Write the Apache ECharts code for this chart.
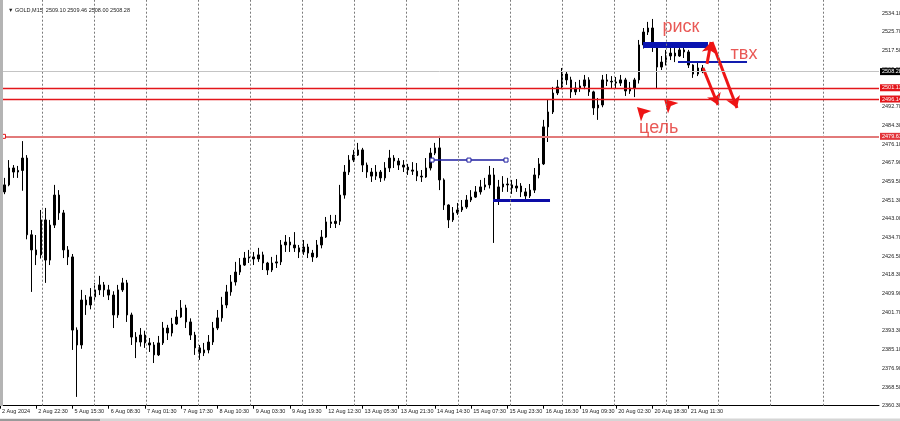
<!DOCTYPE html>
<html><head><meta charset="utf-8">
<script src="https://cdn.jsdelivr.net/npm/echarts/dist/echarts.min.js"></script>
<style>html,body{margin:0;padding:0;background:#fff}#c{width:900px;height:421px}</style>
</head><body><div id="c"></div>
<script>
// ---- data (2-hour candles, GOLD M15 chart) ----
const chartTitle = '\u25BC GOLD,M15  2509.10 2509.46 2508.00 2508.28';
const timeLabels = ['2 Aug 2024','2 Aug 22:30','5 Aug 15:30','6 Aug 08:30','7 Aug 01:30','7 Aug 17:30','8 Aug 10:30','9 Aug 03:30','9 Aug 19:30','12 Aug 12:30','13 Aug 05:30','13 Aug 21:30','14 Aug 14:30','15 Aug 07:30','15 Aug 23:30','16 Aug 16:30','19 Aug 09:30','20 Aug 02:30','20 Aug 18:30','21 Aug 11:30'];
const labelStep = 8;
const slotCount = 195;
const priceTickLabels = ['2360.30','2368.50','2376.90','2385.10','2393.30','2401.70','2409.90','2418.30','2426.50','2434.70','2443.00','2451.30','2459.50','2467.90','2476.10','2484.30','2492.70','2501.00','2509.20','2517.50','2525.70','2534.10'];
const priceMin = 2360.3, priceMax = 2540.0, priceStep = 8.28;

const opens = [
2452.0,2455.0,2458.1,2465.6,2463.8,2464.5,2470.0,2436.0,2429.3,2427.1,
2442.6,2424.8,2440.3,2453.6,2445.7,2429.3,2426.2,2393.8,2387.2,2407.1,
2404.9,2408.5,2411.6,2413.8,2411.6,2409.3,2400.5,2411.6,2414.7,2400.5,
2390.7,2388.5,2391.6,2388.1,2387.2,2382.8,2388.1,2394.7,2392.5,2396.5,
2399.6,2403.6,2397.4,2391.6,2385.9,2383.7,2385.0,2388.5,2394.7,2399.2,
2404.9,2410.7,2415.1,2419.5,2422.6,2425.7,2426.2,2425.3,2427.1,2423.5,
2420.4,2423.5,2424.0,2431.5,2432.8,2431.5,2430.2,2428.4,2430.6,2427.9,
2426.2,2431.5,2435.0,2441.7,2441.0,2442.0,2453.6,2463.8,2469.1,2471.3,
2473.6,2466.9,2463.8,2462.0,2463.8,2461.2,2465.6,2470.0,2468.7,2466.9,
2466.0,2464.7,2464.2,2462.0,2461.6,2465.6,2472.2,2474.5,2460.3,2449.2,
2442.6,2445.7,2447.0,2448.3,2451.4,2452.7,2455.0,2457.2,2458.1,2462.5,
2451.4,2457.2,2458.5,2458.1,2456.7,2457.6,2455.0,2453.2,2455.8,2462.5,
2467.4,2483.8,2490.4,2498.8,2501.5,2507.2,2504.6,2499.3,2501.0,2501.9,
2504.6,2499.3,2492.2,2493.5,2504.6,2504.0,2503.7,2503.2,2504.6,2499.7,
2501.0,2504.6,2520.1,2525.8,2527.6,2520.1,2510.3,2512.5,2515.2,2516.5,
2515.2,2517.9,2517.0,2511.2,2507.2,2509.9];
const closes = [
2455.0,2458.1,2465.6,2463.8,2464.5,2470.0,2436.0,2429.3,2427.1,2442.6,
2424.8,2440.3,2453.6,2445.7,2429.3,2426.2,2393.8,2387.2,2407.1,2404.9,
2408.5,2411.6,2413.8,2411.6,2409.3,2400.5,2411.6,2414.7,2400.5,2390.7,
2388.5,2391.6,2388.1,2387.2,2382.8,2388.1,2394.7,2392.5,2396.5,2399.6,
2403.6,2397.4,2391.6,2385.9,2383.7,2385.0,2388.5,2394.7,2399.2,2404.9,
2410.7,2415.1,2419.5,2422.6,2425.7,2426.2,2425.3,2427.1,2423.5,2420.4,
2423.5,2424.0,2431.5,2432.8,2431.5,2430.2,2428.4,2430.6,2427.9,2426.2,
2431.5,2435.0,2441.7,2441.0,2442.0,2453.6,2463.8,2469.1,2471.3,2473.6,
2466.9,2463.8,2462.0,2463.8,2461.2,2465.6,2470.0,2468.7,2466.9,2466.0,
2464.7,2464.2,2462.0,2461.6,2465.6,2472.2,2474.5,2460.3,2449.2,2442.6,
2445.7,2447.0,2448.3,2451.4,2452.7,2455.0,2457.2,2458.1,2462.5,2451.4,
2457.2,2458.5,2458.1,2456.7,2457.6,2455.0,2453.2,2455.8,2462.5,2467.4,
2483.8,2490.4,2498.8,2501.5,2507.2,2504.6,2499.3,2501.0,2501.9,2504.6,
2499.3,2492.2,2493.5,2504.6,2504.0,2503.7,2503.2,2504.6,2499.7,2501.0,
2504.6,2520.1,2525.8,2527.6,2520.1,2510.3,2512.5,2515.2,2516.5,2515.2,
2517.9,2517.0,2511.2,2507.2,2509.9,2508.28];
const lows = [
2451.0,2454.0,2457.5,2461.2,2461.2,2455.5,2434.0,2410.7,2422.6,2425.5,
2414.7,2422.6,2439.0,2442.6,2425.7,2422.6,2385.0,2364.2,2385.5,2400.5,
2403.0,2407.1,2409.3,2408.5,2407.1,2394.7,2399.2,2410.7,2397.4,2387.2,
2381.4,2386.5,2385.9,2384.1,2379.2,2382.3,2387.2,2389.4,2391.0,2396.1,
2399.2,2394.7,2389.4,2382.8,2380.6,2382.3,2383.5,2387.2,2393.8,2397.5,
2403.5,2409.0,2413.5,2418.2,2422.2,2423.5,2422.6,2424.0,2420.4,2418.2,
2419.5,2421.3,2422.6,2428.4,2428.4,2428.4,2425.7,2427.1,2425.7,2424.0,
2425.7,2430.0,2434.6,2439.0,2439.0,2440.3,2452.0,2462.5,2468.2,2470.9,
2463.8,2461.2,2459.4,2460.3,2459.4,2460.0,2463.8,2465.6,2464.7,2463.8,
2462.5,2462.5,2459.8,2459.4,2461.2,2464.5,2471.3,2455.8,2447.0,2439.0,
2441.7,2444.8,2446.1,2447.5,2450.5,2452.3,2453.8,2455.8,2456.5,2432.4,
2449.2,2455.0,2455.0,2454.1,2455.0,2452.7,2451.4,2452.3,2454.5,2461.0,
2466.9,2477.1,2489.5,2497.9,2500.5,2502.4,2496.6,2497.9,2499.3,2500.5,
2497.5,2489.1,2486.9,2492.5,2501.9,2501.0,2501.0,2501.9,2497.5,2498.4,
2497.0,2503.0,2518.5,2524.5,2517.0,2501.0,2509.0,2511.0,2513.4,2512.5,
2514.8,2514.3,2509.9,2505.5,2506.3,2507.6];
const highs = [
2457.0,2461.2,2469.1,2466.9,2466.5,2477.5,2471.3,2438.1,2435.9,2447.0,
2447.9,2442.6,2458.1,2455.8,2447.0,2431.0,2427.5,2395.0,2411.6,2409.3,
2412.4,2414.7,2417.8,2415.1,2413.8,2411.0,2413.8,2416.9,2416.0,2401.5,
2392.9,2394.7,2393.5,2390.3,2388.5,2391.2,2397.4,2396.1,2399.2,2402.7,
2407.1,2405.0,2399.0,2393.0,2387.2,2388.1,2391.6,2397.4,2402.7,2408.5,
2413.8,2418.2,2424.0,2425.7,2428.4,2429.3,2428.4,2430.2,2428.5,2424.0,
2426.2,2427.1,2433.7,2435.9,2435.0,2437.2,2431.5,2433.7,2432.0,2429.3,
2433.7,2438.1,2443.9,2444.8,2444.8,2458.1,2466.9,2471.3,2473.6,2476.7,
2474.5,2468.0,2465.6,2466.9,2464.7,2468.2,2473.6,2471.3,2470.0,2469.1,
2467.4,2468.2,2467.8,2464.7,2470.0,2474.5,2476.7,2479.8,2461.0,2449.5,
2448.3,2450.1,2451.4,2453.6,2455.8,2457.6,2460.3,2461.2,2466.5,2465.6,
2460.3,2462.0,2461.2,2460.3,2460.7,2458.9,2456.7,2458.5,2465.6,2470.0,
2486.9,2495.7,2501.5,2504.6,2509.9,2508.5,2506.0,2503.7,2504.6,2506.8,
2505.8,2499.8,2496.6,2506.8,2507.2,2506.3,2505.9,2506.8,2505.5,2503.7,
2505.5,2522.3,2527.6,2530.3,2531.6,2520.5,2515.2,2517.9,2519.2,2518.7,
2520.5,2519.6,2517.9,2511.5,2512.1,2511.2];

// price levels (horizontal lines)
const bidPrice = 2508.28, bidLabel = '2508.28';
const levelPrices = [2501.13, 2496.14, 2479.61];
const levelLabels = ['2501.13', '2496.14', '2479.61'];
// vertical grid line positions (slot units)
const gridSlots = [9.34,20.82,32.30,43.79,55.27,66.75,78.24,89.72,101.20,112.69,124.17,135.65,147.14,158.62,170.10,181.59];
// drawn objects: [slotStart, price, slotEnd, price]
const blueThin = [95.35, 2469.1, 111.68, 2469.1];
const blueThinHandles = [95.35, 103.5, 111.68];
const blueEntry = [108.81, 2451.4, 121.39, 2451.4];
const riskLine = [141.92, 2520.3, 156.26, 2520.3];
const entryLine = [149.64, 2512.8, 164.87, 2512.8];
const redArrows = [
  [155.16, 2509.9, 158.47, 2493.5],
  [156.04, 2511.7, 156.92, 2521.4],
  [157.14, 2521.4, 162.66, 2492.2]
];
const smallArrows = [[140.59, 2492.6], [146.55, 2496.1]];
const noteTexts = ['риск', 'твх', 'цель'];
const notePos = [[150.3, 2528.0], [164.2, 2515.9], [145.4, 2483.3]];
const levelHandle = [0.77, 2479.61];

// ---- chart ----
const FONT = '"Liberation Sans", Arial, sans-serif';
const slots = Array.from({length: slotCount}, (_, i) => String(i));
const candles = opens.map((o, i) => [o, closes[i], lows[i], highs[i]]);
const isLabelSlot = (i) => i % labelStep === 0 && (i / labelStep) < timeLabels.length;
const seg = (a) => [[a[0], a[1]], [a[2], a[3]]];

const chart = echarts.init(document.getElementById('c'), null, {renderer: 'canvas'});
chart.setOption({
  animation: false,
  backgroundColor: '#fff',
  title: {text: chartTitle, left: 3, top: 2, textStyle: {fontSize: 5.5, fontWeight: 'normal', color: '#222', fontFamily: FONT}},
  grid: {left: 0, right: 21, top: 0, bottom: 15.3, containLabel: false, outerBoundsMode: 'none'},
  xAxis: [
    {type: 'category', data: slots, boundaryGap: false,
     axisLine: {lineStyle: {color: '#000', width: 1}},
     axisTick: {show: true, length: 3, interval: (i) => isLabelSlot(i), lineStyle: {color: '#000'}},
     axisLabel: {interval: (i) => isLabelSlot(i), formatter: (v, i) => isLabelSlot(i) ? timeLabels[i / labelStep] : '',
       align: 'left', padding: [0, 0, 0, 2], fontSize: 5.5, color: '#222', margin: 3, fontFamily: FONT},
     splitLine: {show: false}},
    {type: 'value', min: 0, max: slotCount - 1, show: false}
  ],
  yAxis: {type: 'value', position: 'right', min: priceMin, max: priceMax, interval: priceStep, scale: true,
    axisLine: {show: true, lineStyle: {color: '#000', width: 1}},
    axisTick: {show: true, length: 3, lineStyle: {color: '#000'}},
    axisLabel: {fontSize: 5.5, color: '#222', margin: 3, fontFamily: FONT,
      formatter: (v) => { const k = Math.round((v - priceMin) / priceStep); return priceTickLabels[k] || ''; }},
    splitLine: {show: false}},
  series: [
    {type: 'line', xAxisIndex: 1, data: [[0, priceMin]], symbol: 'none', lineStyle: {opacity: 0}, z: 1, silent: true,
     markLine: {silent: true, symbol: ['none', 'none'], label: {show: false},
       lineStyle: {color: '#7a7a7a', type: [2, 2], width: 1},
       data: gridSlots.map(v => ({xAxis: v}))}},
    {type: 'candlestick', xAxisIndex: 0, data: candles, barWidth: 2, z: 2,
     itemStyle: {color: '#000', color0: '#000', borderColor: '#000', borderColor0: '#000', borderWidth: 1},
     markLine: {silent: true, symbol: ['none', 'none'], precision: 2,
       label: {show: true, position: 'end', distance: 1, fontSize: 5.5, color: '#fff', padding: [1, 2, 0, 2], fontFamily: FONT},
       data: [
         {yAxis: bidPrice, lineStyle: {color: '#c4c4c4', width: 1, type: 'solid'}, label: {formatter: bidLabel, backgroundColor: '#000'}},
         {yAxis: levelPrices[0], lineStyle: {color: '#e3161b', width: 1.3, type: 'solid'}, label: {formatter: levelLabels[0], backgroundColor: '#e3161b'}},
         {yAxis: levelPrices[1], lineStyle: {color: '#e3161b', width: 1.3, type: 'solid'}, label: {formatter: levelLabels[1], backgroundColor: '#e3161b'}},
         {yAxis: levelPrices[2], lineStyle: {color: '#e27a7a', width: 2, type: 'solid'}, label: {formatter: levelLabels[2], backgroundColor: '#e3353a'}}
       ]}},
    {type: 'lines', coordinateSystem: 'cartesian2d', xAxisIndex: 1, yAxisIndex: 0, z: 3, silent: true,
     symbol: ['none', 'none'], lineStyle: {opacity: 1},
     data: [
       {coords: seg(blueThin), lineStyle: {color: '#1e1ea0', width: 1.5, opacity: 1}},
       {coords: seg(blueEntry), lineStyle: {color: '#0c0ca6', width: 3, opacity: 1}},
       {coords: seg(riskLine), lineStyle: {color: '#0a14b0', width: 6, opacity: 1}},
       {coords: seg(entryLine), lineStyle: {color: '#121cae', width: 2, opacity: 1}}
     ]},
    {type: 'lines', coordinateSystem: 'cartesian2d', xAxisIndex: 1, yAxisIndex: 0, z: 4, silent: true,
     symbol: ['none', 'arrow'], symbolSize: 11,
     lineStyle: {color: '#ee1515', width: 3, opacity: 1},
     data: redArrows.map(a => ({coords: seg(a)}))},
    {type: 'scatter', xAxisIndex: 1, z: 4, silent: true, data: smallArrows,
     symbol: 'arrow', symbolSize: [11, 13], symbolRotate: 45, itemStyle: {color: '#ee1515', opacity: 1}},
    {type: 'scatter', xAxisIndex: 1, z: 5, silent: true, data: blueThinHandles.map(x => [x, blueThin[1]]),
     symbol: 'rect', symbolSize: 4, itemStyle: {color: '#fff', borderColor: '#1e1ea0', borderWidth: 1, opacity: 1}},
    {type: 'scatter', xAxisIndex: 1, z: 5, silent: true, data: [levelHandle],
     symbol: 'rect', symbolSize: 4, itemStyle: {color: '#fff', borderColor: '#e3161b', borderWidth: 1, opacity: 1}},
    {type: 'scatter', xAxisIndex: 1, z: 5, silent: true,
     data: notePos.map((p, i) => ({value: p, name: noteTexts[i]})),
     symbolSize: 1, itemStyle: {color: 'transparent'},
     label: {show: true, position: 'inside', formatter: (p) => p.name, fontSize: 18, color: '#e3302c', fontFamily: FONT}}
  ],
  graphic: [
    {type: 'rect', left: 0, top: 0, shape: {width: 3, height: 406}, style: {fill: '#b4b4b4'}, silent: true, z: 10},
    {type: 'rect', left: 0, top: 418.5, shape: {width: 900, height: 2.5}, style: {fill: '#d6d6d6'}, silent: true},
    {type: 'rect', left: 0, top: 419, shape: {width: 100, height: 2}, style: {fill: '#9a9a9a'}, silent: true}
  ]
});
</script>
</body></html>
